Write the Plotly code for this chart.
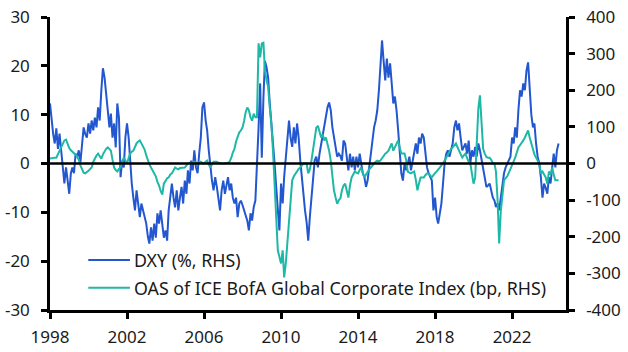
import pandas as pd
import plotly.graph_objects as go

# Monthly observations, Jan 1998 onwards
dxy = [
    12.3, 8.5, 6.1, 4.1, 7.2, 3.0, 6.1, 2.7, -0.8, -4.1,
    -0.8, -3.5, -6.2, -2.0, -0.8, -2.0, 2.0, 1.4, 2.7, 0.2,
    4.1, 7.4, 6.0, 5.3, 8.2, 6.1, 8.8, 6.8, 9.4, 7.4,
    11.5, 8.8, 15.0, 19.5, 17.6, 13.5, 10.9, 7.4, 10.2, 5.3,
    8.2, 3.3, 12.3, 9.4, -2.8, 0.6, -0.8, 5.3, 8.2, 5.3,
    0.6, -4.1, -7.0, -9.6, -5.5, -8.2, -11.0, -8.2, -9.6, -10.5,
    -12.3, -15.0,
    -16.4, -13.1, -15.8, -12.3, -15.2, -10.2, -12.3, -9.6,
    -13.1, -15.2, -13.7, -15.8, -9.6, -7.0, -4.1, -7.0, -9.0, -5.5,
    -9.6, -7.0, -4.8, -8.2, -3.5, -6.2, -1.4, -4.1, 0.6, -1.4,
    2.7, -0.8, -2.0, 2.0, 5.3, 11.5, 12.5, 8.8, 6.8, 2.7,
    -0.8, -3.5, -5.5, -2.8, -4.8, -7.0, -9.6, -5.5, -3.5, -6.2,
    -4.1, -2.8, -5.5, -4.1, -7.0, -8.2, -7.0, -11.0, -8.2, -7.6,
    -8.5, -9.6,
    -10.5, -11.7, -13.7, -10.2, -11.7, -8.9, -7.6, -1.4,
    7.4, 16.4, 1.2, 13.5, 21.0, 19.7, 17.6, 12.3, 8.8, 5.3,
    0.0, -4.8, -9.6, -13.7, -4.1, -8.2, -2.8, 1.4, 5.3, 8.8,
    5.3, 3.4, 7.4, 4.1, 8.2, 5.3, 0.6, -2.8, -7.0, -9.6,
    -12.0, -15.8, -11.0, -7.0, -2.8, 0.6, 1.4, -0.8, 2.0, 4.1,
    5.3, 8.2, 9.6, 11.5, 12.5, 10.9, 7.4, 5.3, 3.4, 1.4,
    2.0,
    1.5,
    0.6, 4.7, 4.1, 0.6, -1.4, 2.0, -0.8, 1.4, -1.4, 1.4, -0.8, 2.0,
    0.0,
    -2.0, -2.8, -4.8, -3.5, -0.8, 2.0, 5.3, 7.4, 8.8, 10.9, 15.0, 19.0, 25.2,
    21.0, 17.0, 21.5, 17.6, 20.5, 16.4, 12.3, 13.7, 10.9, 6.8, 2.0, -2.0, -3.5, 0.0, -1.4,
    0.0,
    1.4, -1.4, 0.6, 2.7, 4.1, 2.0, 5.3, 4.1, 6.1, 5.3, 2.7, -0.8, -2.0, -2.8, -3.5, -9.6, -7.0,
    -11.0, -12.3, -10.2, -8.2, -4.1, 0.0, 2.0, 2.7, 1.4, 2.7, 4.1, 7.4, 8.8, 6.8, 8.2, 5.3, 2.7,
    3.4,
    4.1, 2.0, 4.7, 0.0, 2.7, 1.4, 3.4, 1.4, 4.1, 2.7, 0.6, -1.4, -2.8, -4.8,
    -4.5,
    -4.1, -5.5, -7.0, -7.6, -8.9, -8.2, -9.6, -7.0,
    -4.1, -2.0, -0.8,
    0.0, 0.7, 1.4, 5.3, 4.1, 7.4, 5.3, 10.9, 15.0, 13.7,
    16.4, 15.0, 19.0, 20.7, 15.0, 10.0, 7.4, 8.2, 4.1, 1.4,
    0.0, -2.8, -7.0, -4.1, -5.0, -6.2, -2.8, -4.1, -0.8, 2.0,
    -0.8, 2.7, 4.1,
]

oas = [
    13.6, 15, 16, 16, 16, 25, 35, 45, 55, 63,
    65, 52, 42, 36, 33, 28, 24, 18, 10, -5,
    -15, -25, -27, -24, -20, -15, -11, 5, 16, 22,
    27, 20, 13, 25, 35, 40, 44, 40, 35, 10,
    -11, -18, -22, -15, -11, 5, 16, 8, 0, 15,
    27, 32, 35, 45, 55, 60, 63, 55, 48, 38,
    22, 8,
    -2, -11, -18, -27, -35, -50, -60, -75,
    -85, -55, -46, -40, -38, -30, -27, -18, -11, -14,
    -16, -12, -11, -11, -11, -5, 0, 2, 0, 3,
    5, 2, 0, 3, 5, 2, 0, 5, 8, -2,
    -11, -3, 5, 5, 5, 2, 0, 0, 0, 0,
    0, 2, 5, 15, 30, 40, 60, 71, 85, 90,
    98, 117,
    140, 153, 145, 126, 117, 136, 126, 126,
    328, 290, 328, 330, 254, 227, 210, 153, 108, 35,
    -55, -147, -237, -255, -273, -237, -311, -273, -218, -147,
    -93, -46, -35, -27, -20, -15, -11, -5, 0, 0,
    0, -27, -16, 8, 35, 63, 98, 103, 90, 71,
    80, 63, 71, 55, 35, 8, -38, -73, -93, -110,
    -100,
    -95, -73, -60, -55, -75, -93, -60, -38, -30,
    -22, -25, -27, -18, -11, -25, -38, -30, -22, -16,
    -11, -5, 0, 5, 8, 6, 8, 15, 20, 27,
    30, 35, 45, 55, 35, 44, 55, 63, 44, 27,
    27, 27, 10, -22, -25, -27, -24, -22, -45, -73,
    -55, -38, -38, -38, -32, -27, -27, -32, -38, -32,
    -27,
    -22, -18, -11, -5, 0, 8, 16, 25, 35,
    40, 44, 50, 55, 45, 35, 25, 16, 22, 27,
    15, 5, 0, -30, -55, -38, 55, 150, 186, 100,
    40, 27, 18, 16, 16, 10, 0, 0, -22, -100,
    -218, -130, -80, -46, -40,
    -35, -25, -15, -5, 5, 16, 30, 44, 50, 55,
    63, 71, 80, 90, 71, 55, 35, 25, 16, 8,
    0, -27, -22, -30, -38, -55, -22, -30, -11, -30,
    -46, -46, -46,
]

start = "1998-01-01"
x_end = "2024-10-20"
year_ticks = ["1998", "2002", "2006", "2010", "2014", "2018", "2022"]
left_ticks = [-30, -20, -10, 0, 10, 20, 30]
right_ticks = [-400, -300, -200, -100, 0, 100, 200, 300, 400]
names = ["DXY (%, RHS)", "OAS of ICE BofA Global Corporate Index (bp, RHS)"]
colors = ["#2257D0", "#1DB8A6"]

dxy_dates = pd.date_range(start, periods=len(dxy), freq="MS")
oas_dates = pd.date_range(start, periods=len(oas), freq="MS")

FONT = "Noto Sans"
fig = go.Figure()
fig.add_trace(go.Scatter(x=dxy_dates, y=dxy, mode="lines", name=names[0],
                         line=dict(color=colors[0], width=2), yaxis="y", showlegend=False))
fig.add_trace(go.Scatter(x=oas_dates, y=oas, mode="lines", name=names[1],
                         line=dict(color=colors[1], width=2), yaxis="y2", showlegend=False))

axis_common = dict(showline=True, linecolor="black", linewidth=2.5, ticks="outside",
                   ticklen=6, tickwidth=2.5, tickcolor="black", showgrid=False, zeroline=False,
                   automargin=False,
                   tickfont=dict(family=FONT, size=17, color="#1a1a1a"))

fig.update_layout(
    width=628, height=352,
    margin=dict(l=50, r=62, t=17, b=42),
    paper_bgcolor="white", plot_bgcolor="white",
    xaxis=dict(type="date", range=[start, x_end], tickvals=[f"{y}-01-01" for y in year_ticks],
               ticktext=year_ticks, ticklabelstandoff=4, **axis_common),
    yaxis=dict(range=[-30, 30], tickvals=left_ticks, ticktext=[str(v) for v in left_ticks],
               ticklabelstandoff=8, **axis_common),
    yaxis2=dict(range=[-400, 400], tickvals=right_ticks, ticktext=[str(v) for v in right_ticks],
                overlaying="y", side="right", ticklabelstandoff=8, **axis_common),
)

# zero line
fig.add_shape(type="line", xref="paper", x0=0, x1=1, yref="y", y0=0, y1=0,
              line=dict(color="black", width=2.5), layer="above")

# legend drawn inside the plot
leg_y = [0.1706, 0.0761]
for i in range(2):
    fig.add_shape(type="line", xref="paper", yref="paper", x0=0.0742, x1=0.155,
                  y0=leg_y[i], y1=leg_y[i], line=dict(color=colors[i], width=2))
    fig.add_annotation(xref="paper", yref="paper", x=0.159, y=leg_y[i], text=names[i],
                       showarrow=False, xanchor="left", yanchor="middle",
                       font=dict(family=FONT, size=17.8, color="#1a1a1a"))

fig.write_html("out.html")
